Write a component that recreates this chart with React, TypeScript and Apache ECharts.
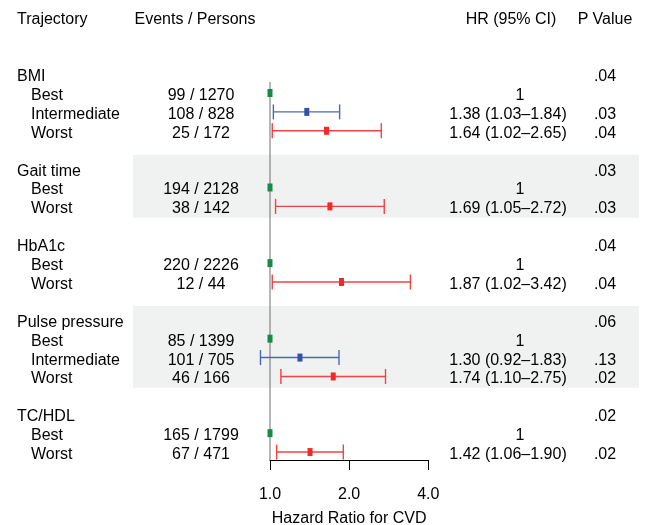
import React, { useEffect, useRef } from "react";
import * as echarts from "echarts";

// ---- data ----
const groups = ["BMI", "Gait time", "HbA1c", "Pulse pressure", "TC/HDL"];
const groupP = [".04", ".03", ".04", ".06", ".02"];
const groupSizes = [3, 2, 2, 3, 2];
const groupShaded = [false, true, false, true, false];
const levels = ["Best", "Intermediate", "Worst", "Best", "Worst", "Best", "Worst", "Best", "Intermediate", "Worst", "Best", "Worst"];
const events = ["99 / 1270", "108 / 828", "25 / 172", "194 / 2128", "38 / 142", "220 / 2226", "12 / 44", "85 / 1399", "101 / 705", "46 / 166", "165 / 1799", "67 / 471"];
const hr = [1, 1.38, 1.64, 1, 1.69, 1, 1.87, 1, 1.3, 1.74, 1, 1.42];
const lo = [1, 1.03, 1.02, 1, 1.05, 1, 1.02, 1, 0.92, 1.1, 1, 1.06];
const hi = [1, 1.84, 2.65, 1, 2.72, 1, 3.42, 1, 1.83, 2.75, 1, 1.9];
const pVals = ["", ".03", ".04", "", ".03", "", ".04", "", ".13", ".02", "", ".02"];
const xTicks = [1, 2, 4];
const headers = ["Trajectory", "Events / Persons", "HR (95% CI)", "P Value"];
const axisTitle = "Hazard Ratio for CVD";

const levelColor: Record<string, { box: string; line: string }> = {
  Best: { box: "#178a47", line: "#178a47" },
  Intermediate: { box: "#3352a5", line: "#4d68b3" },
  Worst: { box: "#ee2b2b", line: "#f04343" },
};

const FONT = '"Liberation Sans", Arial, Helvetica, sans-serif';

export default function App() {
  const ref = useRef<HTMLDivElement>(null);

  useEffect(() => {
    if (!ref.current) return;
    const chart = echarts.init(ref.current, null, { renderer: "svg" });

    type TextItem = { row: number; text: string; x: number; align: string };
    const texts: TextItem[] = [];
    const ciData: any[] = [];
    const bands: any[] = [];
    texts.push({ row: 0, text: headers[0], x: 17, align: "left" });
    texts.push({ row: 0, text: headers[1], x: 195, align: "center" });
    texts.push({ row: 0, text: headers[2], x: 511, align: "center" });
    texts.push({ row: 0, text: headers[3], x: 605, align: "center" });

    let row = 3;
    let k = 0;
    groups.forEach((g, gi) => {
      const gRow = row;
      texts.push({ row: gRow, text: g, x: 17, align: "left" });
      texts.push({ row: gRow, text: groupP[gi], x: 605, align: "center" });
      for (let s = 0; s < groupSizes[gi]; s++) {
        const r = gRow + 1 + s;
        texts.push({ row: r, text: levels[k], x: 31, align: "left" });
        texts.push({ row: r, text: events[k], x: 201, align: "center" });
        const isRef = hr[k] === 1 && lo[k] === 1 && hi[k] === 1;
        const hrText = isRef
          ? "1"
          : `${hr[k].toFixed(2)} (${lo[k].toFixed(2)}–${hi[k].toFixed(2)})`;
        texts.push({ row: r, text: hrText, x: isRef ? 520 : 508, align: "center" });
        if (pVals[k]) texts.push({ row: r, text: pVals[k], x: 605, align: "center" });
        ciData.push({ value: [hr[k], r, lo[k], hi[k]], level: levels[k] });
        k++;
      }
      const lastRow = gRow + groupSizes[gi];
      if (groupShaded[gi]) bands.push([1, gRow - 0.73, lastRow + 0.6]);
      row = lastRow + 2;
    });
    const lastDataRow = row - 2;

    chart.setOption({
      animation: false,
      grid: {
        left: 270,
        width: 158.3,
        top: 17.4,
        bottom: 65,
        outerBoundsMode: "none",
      } as any,
      xAxis: {
        type: "log",
        logBase: 2,
        position: "bottom",
        min: xTicks[0],
        max: xTicks[xTicks.length - 1],
        axisLine: { show: true, onZero: false, lineStyle: { color: "#000", width: 1 } },
        axisTick: { show: true, length: 10, lineStyle: { color: "#000", width: 1 } },
        splitLine: { show: false },
        minorTick: { show: false },
        axisLabel: {
          formatter: (v: number) => Number(v).toFixed(1),
          fontSize: 16,
          fontFamily: FONT,
          color: "#000",
          margin: 25,
        },
        name: axisTitle,
        nameLocation: "middle",
        nameGap: 49,
        nameTextStyle: { fontSize: 16, fontFamily: FONT, color: "#000" },
      },
      yAxis: {
        type: "value",
        inverse: true,
        min: 0,
        max: lastDataRow + 0.42,
        show: false,
        splitLine: { show: false },
      },
      series: [
        {
          type: "custom",
          clip: false,
          z: 1,
          data: bands,
          encode: { x: 0, y: [1, 2] },
          renderItem: (params: any, api: any) => {
            const y0 = api.coord([1, api.value(1)])[1];
            const y1 = api.coord([1, api.value(2)])[1];
            return {
              type: "rect",
              shape: { x: 133, y: y0, width: 639 - 133, height: y1 - y0 },
              style: { fill: "#f0f1f1" },
            };
          },
        },
        {
          type: "custom",
          clip: false,
          z: 2,
          data: [[1, 3.42, lastDataRow + 0.42]],
          encode: { x: 0, y: [1, 2] },
          renderItem: (params: any, api: any) => {
            const a = api.coord([api.value(0), api.value(1)]);
            const b = api.coord([api.value(0), api.value(2)]);
            return {
              type: "line",
              shape: { x1: a[0], y1: a[1], x2: b[0], y2: b[1] },
              style: { stroke: "#6e6e6e", lineWidth: 1 },
            };
          },
        },
        {
          type: "custom",
          clip: false,
          z: 3,
          data: ciData,
          encode: { x: [0, 2, 3], y: 1 },
          renderItem: (params: any, api: any) => {
            const item = ciData[params.dataIndex];
            const col = levelColor[item.level];
            const r = api.value(1);
            const c = api.coord([api.value(0), r]);
            const l = api.coord([api.value(2), r]);
            const h = api.coord([api.value(3), r]);
            const children: any[] = [];
            if (h[0] - l[0] > 0.5) {
              const ls = { stroke: col.line, lineWidth: 1.4 };
              children.push({ type: "line", shape: { x1: l[0], y1: c[1], x2: h[0], y2: c[1] }, style: ls });
              children.push({ type: "line", shape: { x1: l[0], y1: c[1] - 7.5, x2: l[0], y2: c[1] + 7.5 }, style: ls });
              children.push({ type: "line", shape: { x1: h[0], y1: c[1] - 7.5, x2: h[0], y2: c[1] + 7.5 }, style: ls });
            }
            children.push({
              type: "rect",
              shape: { x: c[0] - 2.5, y: c[1] - 4, width: 5, height: 8 },
              style: { fill: col.box },
            });
            return { type: "group", children };
          },
        },
        {
          type: "custom",
          clip: false,
          z: 4,
          data: texts.map((t) => [1, t.row]),
          encode: { x: 0, y: 1 },
          renderItem: (params: any, api: any) => {
            const t = texts[params.dataIndex];
            const y = api.coord([1, api.value(1)])[1];
            return {
              type: "text",
              x: t.x,
              y: y + 1.5,
              style: {
                text: t.text,
                align: t.align,
                verticalAlign: "middle",
                fontSize: 16,
                fontFamily: FONT,
                fill: "#000",
              },
            };
          },
        },
      ],
    } as any);

    return () => chart.dispose();
  }, []);

  return (
    <div
      ref={ref}
      style={{ position: "fixed", left: 0, top: 0, width: 648, height: 525 }}
    />
  );
}
